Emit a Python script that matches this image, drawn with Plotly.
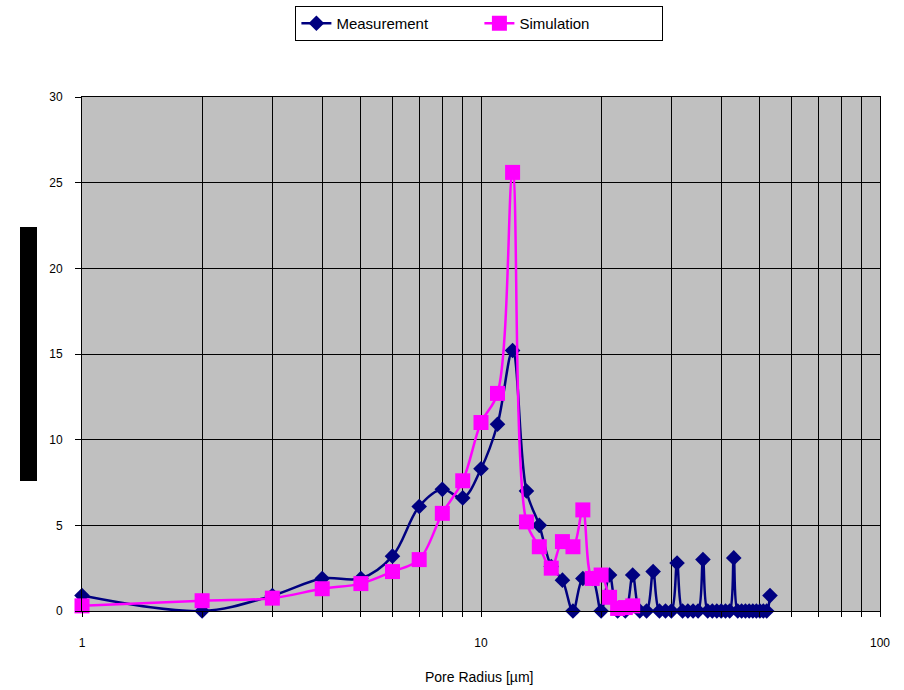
import plotly.graph_objects as go

# Pore radius classes (µm) and measured / simulated distributions
radius_meas = list(range(1, 54))
measurement = [
    0.9, 0.0, 0.9, 1.9, 1.9, 3.2, 6.1, 7.1, 6.6, 8.3,
    10.9, 15.2, 7.0, 5.0, 2.6, 1.8, 0.0, 1.9, 1.9, 0.0,
    2.1, 0.0, 0.0, 2.1, 0.0, 0.0, 2.3, 0.0, 0.0, 0.0,
    2.8, 0.0, 0.0, 0.0, 0.0, 3.0, 0.0, 0.0, 0.0, 0.0,
    0.0, 0.0, 3.1, 0.0, 0.0, 0.0, 0.0, 0.0, 0.0, 0.0,
    0.0, 0.0, 0.9,
]

radius_sim = list(range(1, 25))
simulation = [
    0.3, 0.6, 0.75, 1.3, 1.6, 2.3, 3.0, 5.7, 7.6, 11.0,
    12.7, 25.6, 5.2, 3.75, 2.5, 4.05, 3.75, 5.9, 1.9, 2.1,
    0.8, 0.15, 0.2, 0.3,
]

x_tickvals = [1, 2, 3, 4, 5, 6, 7, 8, 9, 10, 20, 30, 40, 50, 60, 70, 80, 90, 100]
x_ticktext = ["1", "", "", "", "", "", "", "", "", "10", "", "", "", "", "", "", "", "", "100"]
y_tickvals = [0, 5, 10, 15, 20, 25, 30]

NAVY = "#000080"
MAGENTA = "#FF00FF"
FONT = "Liberation Sans, Arial, sans-serif"

W, H = 904, 690
L, R, T, B = 82, 24, 97, 79
plot_w = W - L - R
plot_h = H - T - B

fig = go.Figure()
fig.add_trace(go.Scatter(
    x=radius_meas, y=measurement, name="Measurement",
    mode="lines+markers",
    line=dict(color=NAVY, width=2.5, shape="spline", smoothing=1.0),
    marker=dict(symbol="diamond", size=12, color=NAVY, line=dict(width=0)),
    cliponaxis=False,
))
fig.add_trace(go.Scatter(
    x=radius_sim, y=simulation, name="Simulation",
    mode="lines+markers",
    line=dict(color=MAGENTA, width=2.5, shape="spline", smoothing=1.0),
    marker=dict(symbol="square", size=15, color=MAGENTA, line=dict(width=0)),
    cliponaxis=False,
))

# black block to the left of the value axis
fig.add_shape(
    type="rect", xref="paper", yref="paper",
    x0=(20 - L) / plot_w, x1=(37 - L) / plot_w,
    y0=(H - B - 481) / plot_h, y1=(H - B - 227) / plot_h,
    fillcolor="black", line=dict(width=0), layer="above",
)

fig.add_annotation(
    text="Pore Radius [µm]", xref="paper", yref="paper",
    x=0.497, y=0, yshift=-66, xanchor="center", yanchor="middle",
    showarrow=False, font=dict(family=FONT, size=14, color="black"),
)

fig.update_layout(
    width=W, height=H,
    margin=dict(l=L, r=R, t=T, b=B, autoexpand=False),
    paper_bgcolor="white", plot_bgcolor="#C0C0C0",
    font=dict(family=FONT, color="black"),
    showlegend=True,
    legend=dict(
        orientation="h", x=0.498, xanchor="center",
        y=(H - B - 6) / plot_h, yanchor="top",
        bgcolor="white", bordercolor="black", borderwidth=1,
        font=dict(family=FONT, size=15, color="black"),
        entrywidth=138, entrywidthmode="pixels",
        itemwidth=30,
    ),
    xaxis=dict(
        type="log", range=[0, 2],
        tickmode="array", tickvals=x_tickvals, ticktext=x_ticktext,
        showgrid=True, gridcolor="black", gridwidth=1,
        ticks="outside", ticklen=5, tickcolor="black", tickwidth=1,
        showline=True, linecolor="black", linewidth=1, mirror=True,
        zeroline=False, tickfont=dict(family=FONT, size=12),
        ticklabelstandoff=16,
    ),
    yaxis=dict(
        range=[0, 30], tickmode="array", tickvals=y_tickvals,
        showgrid=True, gridcolor="black", gridwidth=1,
        ticks="outside", ticklen=6, tickcolor="black", tickwidth=1,
        showline=True, linecolor="black", linewidth=1, mirror=True,
        zeroline=False, tickfont=dict(family=FONT, size=12),
        ticklabelstandoff=10,
    ),
)

fig.write_html("out.html")
